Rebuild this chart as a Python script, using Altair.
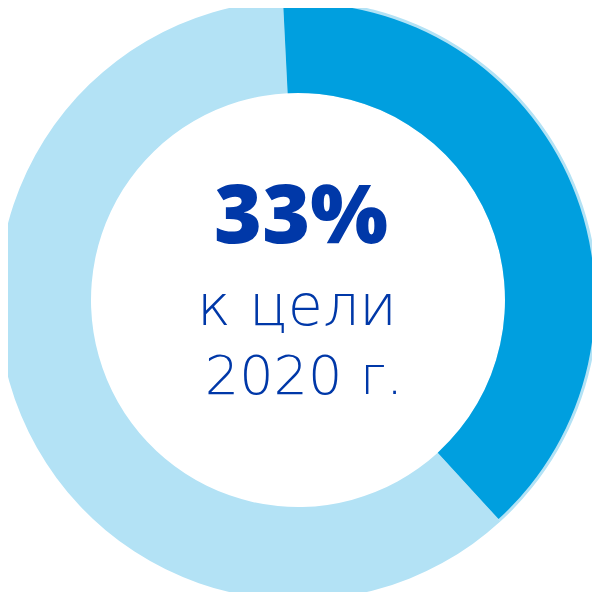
import altair as alt
import pandas as pd

categories = ["к цели 2020 г.", "остаток"]
values = [39, 61]
seg_colors = ["#009FDF", "rgba(0,0,0,0)"]
ring_color = "#B3E2F5"
text_color = "#0038A8"

headline = "33%"
sub1 = "к цели"
sub2 = "2020 г."

df = pd.DataFrame({"cat": categories, "val": values})

start = -0.05
theta_scale = alt.Scale(range=[start, start + 6.283185])

cx, cy = 290, 292

base = alt.Chart(df).encode(
    theta=alt.Theta("val:Q", stack=True, scale=theta_scale),
    order=alt.Order("cat:N", sort="ascending"),
    x=alt.value(cx), y=alt.value(cy),
)

ring = base.mark_arc(innerRadius=207, outerRadius=300, color=ring_color, stroke=None)
seg = base.mark_arc(innerRadius=207, outerRadius=297, strokeWidth=0).encode(
    color=alt.Color("cat:N", scale=alt.Scale(domain=categories, range=seg_colors), legend=None)
)

t1 = alt.Chart(pd.DataFrame({"t": [headline]})).mark_text(
    font="Open Sans", fontSize=82, fontWeight=800, color=text_color, align="center", baseline="alphabetic"
).encode(text="t:N", x=alt.value(293), y=alt.value(235))

t2 = alt.Chart(pd.DataFrame({"t": [sub1]})).mark_text(
    font="DejaVu Sans", fontSize=57, fontWeight=200, color=text_color, align="center", baseline="alphabetic"
).encode(text="t:N", x=alt.value(289), y=alt.value(317))

t3 = alt.Chart(pd.DataFrame({"t": [sub2]})).mark_text(
    font="DejaVu Sans", fontSize=54, fontWeight=200, color=text_color, align="center", baseline="alphabetic"
).encode(text="t:N", x=alt.value(296), y=alt.value(386))

chart = alt.layer(ring, seg, t1, t2, t3).properties(
    width=584, height=584, padding=0, autosize=alt.AutoSizeParams(type="none")
).configure_view(stroke=None)

chart.save("out.html", embed_options={"renderer": "svg", "actions": False})
